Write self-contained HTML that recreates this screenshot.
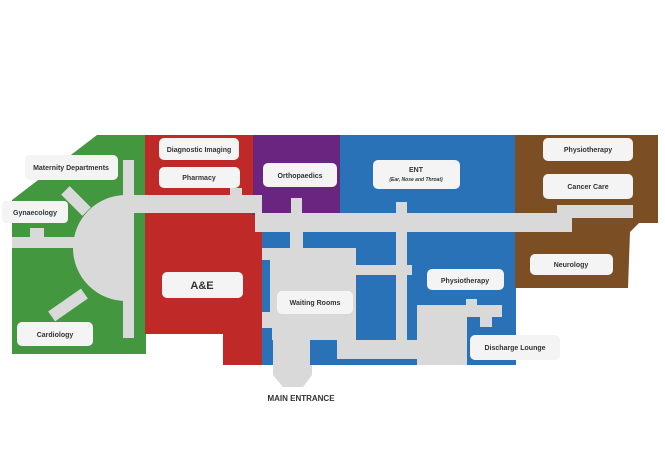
<!DOCTYPE html><html><head><style>body{margin:0;background:#fff}svg{display:block}text{font-family:"Liberation Sans",sans-serif;font-weight:bold;fill:#333;text-anchor:middle}</style></head><body>
<svg width="665" height="465" viewBox="0 0 665 465">
<defs><clipPath id="c"><rect x="0" y="0" width="134" height="465"/></clipPath></defs>
<polygon points="12,200 97,135 146,135 146,354 12,354" fill="#43973f"/>
<polygon points="145,135 262,135 262,365 223,365 223,334 145,334" fill="#bf2a29"/>
<rect x="253" y="135" width="88" height="80" fill="#6a2580"/>
<rect x="340" y="135" width="176" height="230" fill="#2a72b8"/>
<rect x="262" y="225" width="80" height="140" fill="#2a72b8"/>
<polygon points="515,135 658,135 658,223 639,223 630,232 628,288 515,288" fill="#7b4e24"/>
<g fill="#d9d9d9">
<circle cx="126" cy="248" r="53" clip-path="url(#c)"/>
<rect x="123" y="160" width="11" height="178"/>
<rect x="130" y="195" width="132" height="18"/>
<rect x="255" y="213" width="317" height="19"/>
<rect x="557" y="205" width="76" height="13"/>
<rect x="12" y="237" width="70" height="11"/>
<rect x="30" y="228" width="14" height="10"/>
<rect x="70" y="186" width="12" height="30" transform="rotate(-45 76 201)"/>
<rect x="62" y="285" width="12" height="40" transform="rotate(55 68 305)"/>
<rect x="230" y="188" width="12" height="8"/>
<rect x="291" y="198" width="11" height="16"/>
<rect x="396" y="202" width="11" height="12"/>
<rect x="290" y="230" width="13" height="20"/>
<rect x="262" y="248" width="94" height="92"/>
<rect x="356" y="265" width="56" height="10"/>
<rect x="396" y="213" width="11" height="134"/>
<rect x="337" y="340" width="82" height="19"/>
<rect x="417" y="305" width="50" height="60"/>
<rect x="466" y="299" width="11" height="8"/>
<rect x="466" y="305" width="36" height="12"/>
<rect x="480" y="316" width="12" height="11"/>
<polygon points="273,330 312,330 312,375 303,387 283,387 273,375"/>
</g>
<g fill="#2a72b8">
<rect x="262" y="260" width="8" height="52"/>
<rect x="262" y="328" width="10" height="37"/>
<rect x="310" y="340" width="27" height="25"/>
</g>
<g fill="#f4f4f4">
<rect x="25" y="155" width="93" height="25" rx="5"/>
<rect x="2" y="201" width="66" height="22" rx="4"/>
<rect x="17" y="322" width="76" height="24" rx="5"/>
<rect x="159" y="138" width="80" height="22" rx="5"/>
<rect x="159" y="167" width="81" height="21" rx="5"/>
<rect x="263" y="163" width="74" height="24" rx="5"/>
<rect x="162" y="272" width="81" height="26" rx="5"/>
<rect x="277" y="291" width="76" height="23" rx="5"/>
<rect x="373" y="160" width="87" height="29" rx="5"/>
<rect x="427" y="269" width="77" height="21" rx="5"/>
<rect x="470" y="335" width="90" height="25" rx="5"/>
<rect x="543" y="138" width="90" height="23" rx="5"/>
<rect x="543" y="174" width="90" height="25" rx="5"/>
<rect x="530" y="254" width="83" height="21" rx="5"/>
</g>
<g font-size="7">
<text x="71" y="170">Maternity Departments</text>
<text x="35" y="215">Gynaecology</text>
<text x="55" y="337">Cardiology</text>
<text x="199" y="152">Diagnostic Imaging</text>
<text x="199" y="180">Pharmacy</text>
<text x="300" y="178">Orthopaedics</text>
<text x="315" y="305">Waiting Rooms</text>
<text x="416" y="172">ENT</text>
<text x="465" y="283">Physiotherapy</text>
<text x="515" y="350">Discharge Lounge</text>
<text x="588" y="152">Physiotherapy</text>
<text x="588" y="189">Cancer Care</text>
<text x="571" y="267">Neurology</text>
</g>
<text x="416" y="181" font-size="5" font-style="italic" font-weight="normal">(Ear, Nose and Throat)</text>
<text x="202" y="289" font-size="11">A&amp;E</text>
<text x="301" y="401" font-size="8" fill="#222">MAIN ENTRANCE</text>
</svg></body></html>
